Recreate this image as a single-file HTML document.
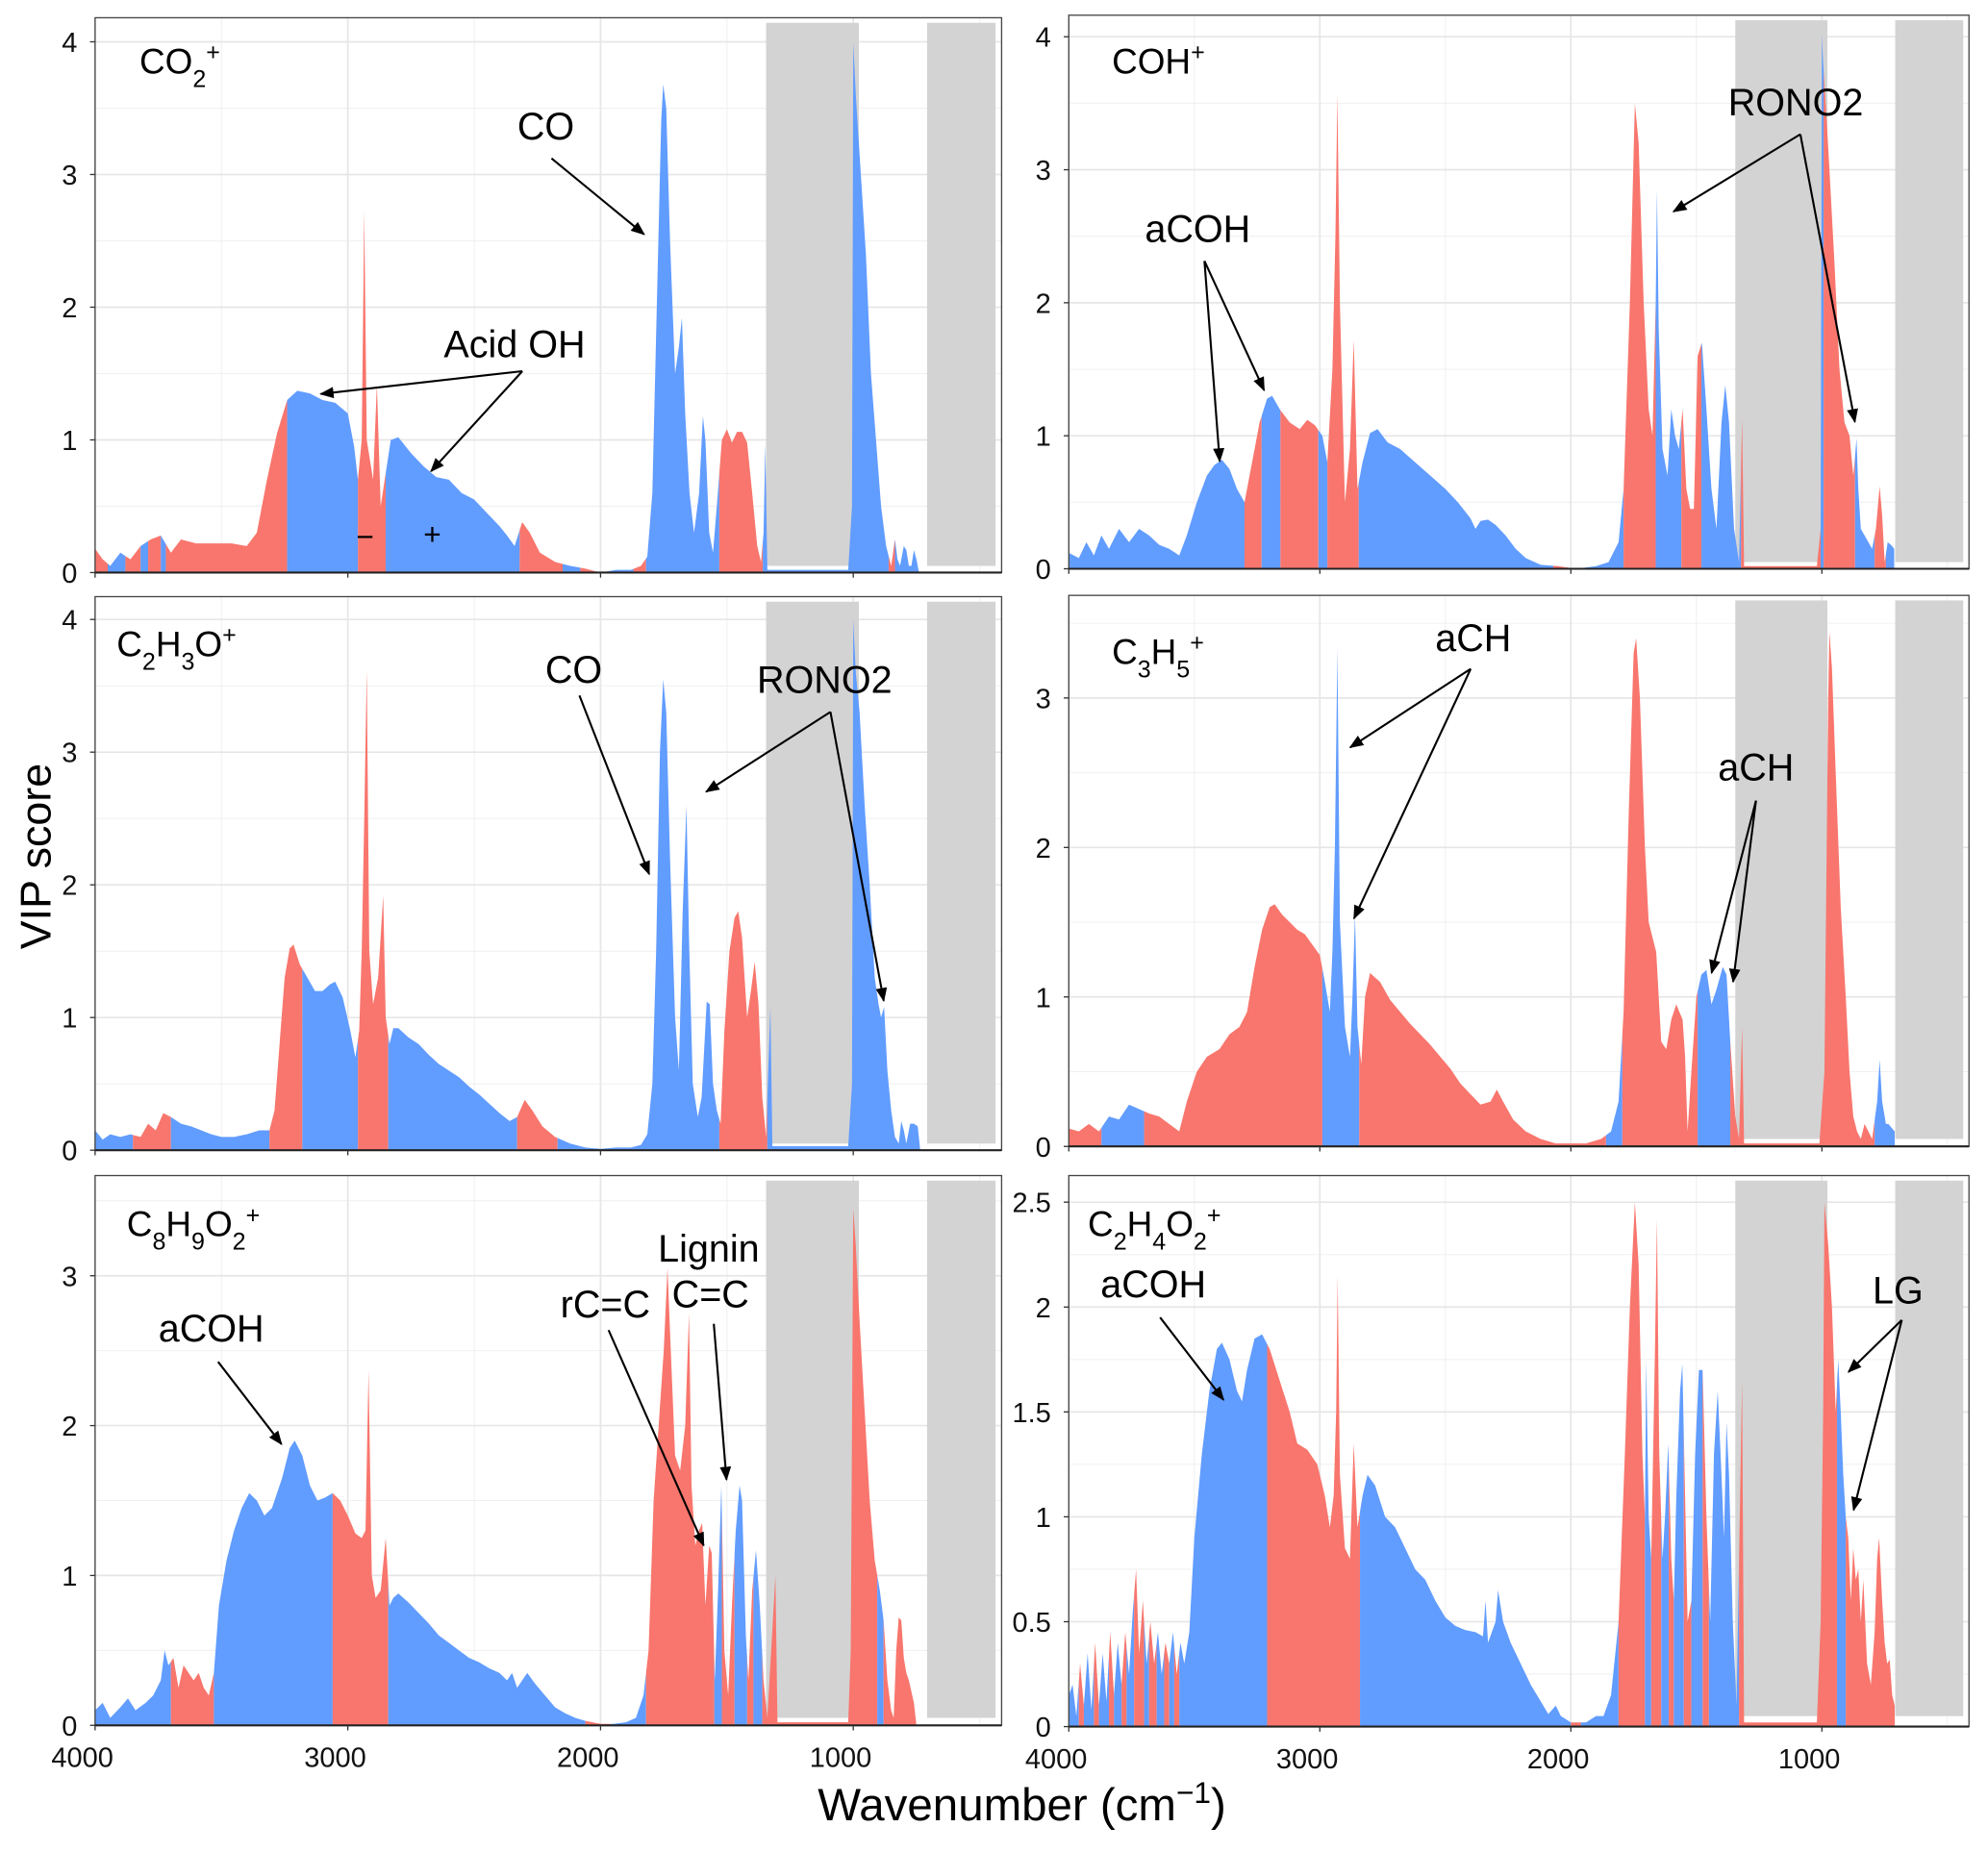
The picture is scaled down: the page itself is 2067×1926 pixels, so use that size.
<!DOCTYPE html>
<html><head><meta charset="utf-8"><style>
html,body{margin:0;padding:0;background:#fff}
svg{display:block}
text{font-family:"Liberation Sans",Arial,sans-serif}
</style></head><body>
<svg id="fig" xmlns="http://www.w3.org/2000/svg" width="2067" height="1926" viewBox="0 0 1568 1462" preserveAspectRatio="none">
<rect x="0" y="0" width="1568" height="1462" fill="#fff"/>
<g id="panels"></g>
<g id="annot" font-size="30" fill="#000">
 <text x="110" y="58" font-size="28">CO<tspan baseline-shift="sub" font-size="19">2</tspan><tspan baseline-shift="super" font-size="19">+</tspan></text>
 <text x="408" y="110">CO</text>
 <text x="350" y="282">Acid OH</text>
 <text x="281" y="432" font-size="24">−</text>
 <text x="334" y="430" font-size="24">+</text>
 <text x="877" y="58" font-size="28">COH<tspan baseline-shift="super" font-size="19">+</tspan></text>
 <text x="1363" y="91">RONO2</text>
 <text x="903" y="191">aCOH</text>
 <text x="92" y="518" font-size="28">C<tspan baseline-shift="sub" font-size="19">2</tspan>H<tspan baseline-shift="sub" font-size="19">3</tspan>O<tspan baseline-shift="super" font-size="19">+</tspan></text>
 <text x="430" y="539">CO</text>
 <text x="597" y="547">RONO2</text>
 <text x="877" y="524" font-size="28">C<tspan baseline-shift="sub" font-size="19">3</tspan>H<tspan baseline-shift="sub" font-size="19">5</tspan><tspan baseline-shift="super" font-size="19">+</tspan></text>
 <text x="1132" y="514">aCH</text>
 <text x="1355" y="616">aCH</text>
 <text x="100" y="976" font-size="28">C<tspan baseline-shift="sub" font-size="19">8</tspan>H<tspan baseline-shift="sub" font-size="19">9</tspan>O<tspan baseline-shift="sub" font-size="19">2</tspan><tspan baseline-shift="super" font-size="19">+</tspan></text>
 <text x="125" y="1059">aCOH</text>
 <text x="442" y="1040">rC=C</text>
 <text x="519" y="996">Lignin</text>
 <text x="530" y="1032">C=C</text>
 <text x="858" y="976" font-size="28">C<tspan baseline-shift="sub" font-size="19">2</tspan>H<tspan baseline-shift="sub" font-size="19">4</tspan>O<tspan baseline-shift="sub" font-size="19">2</tspan><tspan baseline-shift="super" font-size="19">+</tspan></text>
 <text x="868" y="1024">aCOH</text>
 <text x="1477" y="1029">LG</text>
 <text x="645" y="1437" font-size="36">Wavenumber (cm<tspan baseline-shift="super" font-size="24">−1</tspan>)</text>
 <text transform="translate(40,676) rotate(-90)" text-anchor="middle" font-size="34">VIP score</text>
</g>
<defs><marker id="ah" viewBox="0 0 10 10" refX="9" refY="5" markerWidth="7" markerHeight="7" orient="auto"><path d="M0,1 L10,5 L0,9 z" fill="#000"/></marker></defs>
<g id="arrows" stroke="#000" stroke-width="1.6" marker-end="url(#ah)">
 <line x1="435" y1="125" x2="508" y2="185"/>
 <line x1="412" y1="293" x2="253" y2="311"/>
 <line x1="412" y1="293" x2="340" y2="372"/>
 <line x1="1420" y1="106" x2="1320" y2="167"/>
 <line x1="1420" y1="106" x2="1463" y2="333"/>
 <line x1="950" y1="206" x2="962" y2="364"/>
 <line x1="950" y1="206" x2="997" y2="308"/>
 <line x1="457" y1="549" x2="512" y2="690"/>
 <line x1="655" y1="562" x2="557" y2="625"/>
 <line x1="655" y1="562" x2="697" y2="790"/>
 <line x1="1160" y1="528" x2="1065" y2="590"/>
 <line x1="1160" y1="528" x2="1068" y2="725"/>
 <line x1="1385" y1="632" x2="1350" y2="768"/>
 <line x1="1385" y1="632" x2="1367" y2="775"/>
 <line x1="172" y1="1075" x2="222" y2="1140"/>
 <line x1="480" y1="1050" x2="555" y2="1220"/>
 <line x1="563" y1="1045" x2="573" y2="1168"/>
 <line x1="915" y1="1040" x2="965" y2="1105"/>
 <line x1="1500" y1="1042" x2="1458" y2="1083"/>
 <line x1="1500" y1="1042" x2="1462" y2="1192"/>
</g>
</svg>
<script>
// ---- data ----
const p1_wn=[4000,3970,3940,3900,3860,3820,3780,3740,3700,3660,3600,3520,3460,3400,3360,3320,3280,3240,3200,3150,3100,3050,3000,2975,2960,2945,2935,2925,2900,2885,2870,2850,2830,2800,2750,2700,2650,2600,2550,2500,2450,2400,2370,2340,2310,2280,2240,2180,2120,2060,2000,1940,1880,1840,1815,1795,1775,1760,1752,1740,1725,1705,1690,1678,1665,1648,1630,1610,1595,1585,1570,1555,1540,1520,1500,1480,1460,1440,1420,1400,1380,1365,1355,1348,1340,1020,1005,1000,990,970,950,930,910,890,870,850,835,825,815,800,790,780,770,760,750,740];
const p1_vip=[.18,.1,.05,.15,.1,.2,.25,.28,.15,.25,.22,.22,.22,.2,.3,.7,1.05,1.3,1.37,1.35,1.3,1.28,1.2,.95,.7,1.0,2.73,1.0,.7,1.42,.5,.75,1.0,1.02,.9,.8,.72,.7,.6,.55,.45,.35,.28,.2,.38,.3,.15,.08,.05,.03,0,.02,.02,.05,.12,.6,2.2,3.4,3.68,3.5,2.5,1.5,1.7,1.92,1.2,.6,.3,.6,1.18,1.0,.3,.15,.5,1.0,1.08,.98,1.06,1.06,.98,.6,.2,.08,.3,.97,.02,.02,.5,4.0,3.6,3.0,2.4,1.5,1.0,.5,.2,.05,.25,.1,.05,.2,.17,.05,.05,.17,.1,0];
const p1_bounds=[4000,3950,3880,3820,3790,3740,3720,3240,2960,2850,2320,2150,2080,2000,1870,1820,1530,1358,860,835,740];
const p1_colors=['r','b','r','b','r','b','r','b','r','b','r','b','r','b','r','b','r','b','r','b'];

const p2_wn=[4000,3960,3930,3900,3870,3840,3800,3760,3720,3680,3640,3600,3560,3530,3490,3450,3420,3390,3360,3330,3300,3270,3240,3210,3190,3160,3120,3080,3050,3020,2990,2970,2950,2938,2930,2920,2900,2880,2865,2850,2830,2800,2770,2730,2680,2620,2560,2500,2450,2400,2380,2360,2330,2300,2260,2220,2180,2120,2050,1980,1900,1850,1810,1790,1765,1745,1730,1710,1690,1675,1662,1657,1650,1635,1615,1600,1585,1570,1555,1540,1525,1510,1495,1478,1460,1440,1420,1400,1385,1370,1350,1330,1318,1310,1020,1005,1000,995,985,970,950,930,910,890,875,862,855,845,830,800,785,770,760,750,738,725,712];
const p2_vip=[.12,.08,.2,.1,.25,.15,.3,.2,.3,.25,.18,.15,.1,.25,.5,.7,.78,.82,.75,.6,.5,.8,1.1,1.28,1.3,1.2,1.1,1.05,1.12,1.08,1.0,.8,1.5,2.5,3.57,2.0,.5,.9,1.72,.6,.8,1.02,1.05,.95,.9,.8,.7,.6,.5,.38,.3,.36,.37,.33,.25,.15,.08,.03,.02,0,.02,.05,.2,.6,2.0,3.5,3.2,2.0,1.2,1.0,2.0,2.85,1.8,.9,.7,1.2,1.0,.9,1.2,.6,.45,.45,1.6,1.7,1.2,.6,.3,1.1,1.38,1.1,.3,.05,1.13,.02,.02,.3,4.02,3.8,3.5,3.0,2.3,1.5,1.1,1.0,.7,.98,.6,.3,.25,.15,.3,.62,.4,.05,.2,.18,.15];
const p2_bounds=[4000,3300,3232,3157,3006,2970,2845,2070,1960,1790,1662,1560,1480,1322,1005,993,868,790,745,700];
const p2_colors=['b','r','b','r','b','r','b','r','b','r','b','r','b','r','b','r','b','r','b'];

const p3_wn=[4000,3970,3940,3900,3860,3820,3790,3760,3730,3700,3660,3620,3580,3540,3500,3450,3400,3350,3310,3290,3270,3250,3230,3215,3190,3160,3130,3100,3070,3050,3020,2990,2970,2955,2945,2935,2925,2915,2900,2880,2860,2850,2835,2820,2800,2760,2720,2680,2640,2600,2560,2520,2480,2440,2400,2360,2330,2300,2270,2230,2180,2120,2060,2000,1940,1880,1840,1815,1795,1780,1765,1752,1740,1725,1705,1690,1675,1660,1650,1635,1615,1600,1580,1568,1555,1540,1525,1510,1490,1470,1455,1440,1420,1405,1390,1375,1360,1345,1328,1320,1020,1005,1000,990,975,955,935,915,900,890,878,865,850,835,820,810,800,790,775,760,745,735];
const p3_vip=[.15,.08,.12,.1,.12,.1,.2,.15,.28,.25,.2,.18,.15,.12,.1,.1,.12,.15,.15,.3,.8,1.3,1.52,1.55,1.4,1.3,1.2,1.2,1.25,1.27,1.15,.9,.7,.9,1.5,2.5,3.62,1.5,1.1,1.3,1.92,1.0,.8,.92,.92,.85,.8,.72,.65,.6,.55,.48,.42,.35,.28,.22,.25,.38,.3,.18,.1,.05,.02,.01,.02,.02,.04,.12,.5,1.5,3.0,3.55,3.3,2.2,1.0,.6,1.8,2.6,1.6,.5,.25,.4,1.12,1.1,.5,.3,.2,.9,1.5,1.75,1.8,1.6,1.0,1.2,1.42,1.1,.4,.1,1.08,.03,.03,.5,4.0,3.6,3.3,2.6,2.0,1.3,1.1,1.0,1.08,.6,.3,.1,.05,.22,.15,.05,.2,.2,.18,0];
const p3_bounds=[4000,3850,3700,3310,3180,2960,2840,2330,2170,1530,1340,735];
const p3_colors=['b','r','b','r','b','r','b','r','b','r','b'];

const p4_wn=[4000,3960,3920,3880,3840,3800,3760,3720,3680,3640,3600,3560,3530,3490,3450,3400,3360,3320,3290,3260,3230,3200,3180,3150,3120,3090,3060,3030,3000,2980,2960,2950,2940,2930,2920,2900,2880,2870,2860,2850,2835,2820,2800,2760,2720,2680,2640,2600,2560,2520,2480,2440,2400,2360,2320,2295,2270,2230,2180,2120,2060,2000,1940,1880,1840,1810,1790,1770,1750,1740,1725,1705,1690,1675,1660,1640,1620,1600,1580,1568,1555,1545,1535,1520,1500,1480,1460,1440,1420,1395,1380,1365,1345,1330,1318,1310,1010,990,975,970,960,945,925,905,890,875,860,845,830,815,800,780,770,760,745,735,720,710];
const p4_vip=[.12,.1,.15,.1,.2,.18,.28,.25,.22,.2,.15,.1,.3,.5,.6,.65,.75,.8,.9,1.2,1.45,1.6,1.62,1.55,1.5,1.45,1.42,1.35,1.28,1.1,.9,1.3,2.0,3.33,1.5,.8,.6,1.0,1.55,.8,.55,1.0,1.16,1.1,.98,.9,.82,.75,.68,.6,.52,.42,.35,.28,.3,.38,.3,.18,.1,.05,.02,.02,.02,.05,.1,.3,.9,2.2,3.3,3.4,3.0,2.0,1.5,1.4,1.3,.7,.65,.85,.95,.9,.85,.6,.1,.5,1.0,1.15,1.18,.95,1.05,1.2,1.15,.7,.2,.05,.8,.02,.02,.5,3.0,3.44,3.2,2.5,1.6,1.0,.5,.2,.1,.05,.15,.1,.05,.3,.58,.3,.15,.15,.12,.1];
const p4_bounds=[4000,3870,3700,2990,2843,1860,1795,1495,1365,790,700];
const p4_colors=['r','b','r','b','r','b','r','b','r','b'];

const p5_wn=[4000,3970,3940,3900,3870,3840,3800,3770,3740,3725,3710,3690,3670,3650,3630,3610,3590,3570,3550,3530,3510,3480,3450,3420,3390,3360,3330,3300,3260,3230,3210,3180,3150,3120,3090,3060,3030,3000,2970,2945,2930,2918,2905,2890,2870,2850,2835,2820,2800,2760,2720,2680,2640,2600,2560,2520,2480,2440,2400,2370,2350,2330,2310,2290,2260,2220,2180,2140,2100,2060,2000,1950,1900,1860,1830,1810,1790,1770,1750,1735,1722,1705,1685,1665,1650,1640,1625,1610,1598,1585,1570,1560,1548,1535,1522,1510,1495,1480,1465,1450,1440,1425,1415,1400,1385,1370,1355,1340,1308,1300,1020,1010,1005,1000,990,975,955,935,915,895,880,865,850,840,830,820,810,800,790,780,760,750];
const p5_vip=[.1,.15,.05,.12,.18,.1,.15,.2,.3,.5,.4,.45,.25,.4,.35,.3,.35,.25,.2,.35,.8,1.1,1.3,1.45,1.55,1.5,1.4,1.45,1.65,1.85,1.9,1.8,1.6,1.5,1.52,1.55,1.5,1.4,1.28,1.25,1.3,2.37,1.0,.85,.9,1.25,.8,.85,.88,.82,.75,.68,.6,.55,.5,.45,.42,.38,.35,.3,.35,.25,.3,.35,.28,.2,.12,.08,.05,.03,.01,.01,.02,.05,.2,.5,1.5,2.0,2.5,3.05,2.5,1.8,1.7,2.0,2.75,1.6,1.2,1.3,1.35,.8,1.2,1.15,.3,.9,1.6,.5,.2,.8,1.3,1.6,1.5,.6,.3,.9,1.17,.8,.3,.05,1.0,.02,.02,.5,2.0,3.45,3.2,2.7,2.1,1.5,1.1,.9,.7,.3,.1,.05,.5,.72,.7,.45,.35,.3,.15,0];
const p5_bounds=[4000,3700,3530,3060,2840,2060,1960,1820,1550,1520,1470,1420,1395,1360,905,880,750];
const p5_colors=['b','r','b','r','b','r','b','r','b','r','b','r','b','r','b','r'];

const p6_wn=[4000,3985,3970,3955,3940,3925,3910,3895,3880,3865,3850,3835,3820,3805,3790,3775,3760,3745,3732,3720,3705,3690,3675,3660,3645,3630,3615,3600,3585,3570,3555,3540,3520,3500,3470,3440,3410,3390,3360,3330,3310,3290,3260,3230,3200,3160,3120,3090,3050,3010,2980,2960,2945,2935,2929,2920,2900,2880,2865,2850,2830,2810,2780,2740,2700,2660,2620,2580,2540,2500,2460,2420,2380,2350,2340,2330,2300,2290,2270,2240,2200,2160,2120,2090,2060,2040,2000,1940,1900,1870,1840,1810,1785,1765,1745,1730,1715,1705,1700,1690,1680,1665,1657,1648,1635,1625,1612,1600,1590,1580,1565,1556,1545,1535,1520,1505,1490,1475,1460,1445,1430,1415,1400,1390,1380,1370,1355,1340,1318,1310,1020,1005,995,990,975,960,945,935,925,915,905,895,885,875,865,855,845,835,820,805,790,780,772,760,750,740,730,720,710];
const p6_vip=[.15,.2,.05,.3,.1,.35,.08,.4,.1,.35,.12,.45,.15,.4,.2,.45,.25,.55,.75,.35,.6,.3,.5,.3,.45,.25,.4,.3,.45,.25,.4,.3,.45,.9,1.3,1.6,1.8,1.83,1.75,1.6,1.55,1.7,1.85,1.87,1.8,1.65,1.5,1.35,1.32,1.25,1.1,.95,1.1,1.5,2.15,1.2,.85,.8,1.35,.95,1.1,1.2,1.15,1.0,.95,.85,.75,.7,.6,.52,.48,.46,.45,.43,.6,.4,.5,.65,.5,.4,.3,.2,.12,.06,.1,.05,.02,.02,.05,.05,.15,.5,1.3,2.0,2.5,2.2,1.3,1.0,1.75,1.0,.8,1.8,2.42,1.3,.8,1.0,1.35,.8,.6,1.1,1.6,1.73,1.1,.5,.6,1.3,1.7,1.7,1.0,.5,1.3,1.6,1.2,.9,1.45,1.2,.5,.1,1.65,.02,.02,.5,1.5,2.5,2.3,2.0,1.5,1.75,1.5,1.2,1.0,.9,.6,.85,.7,.75,.5,.7,.3,.2,.45,.8,.9,.6,.4,.3,.32,.15,.1];
const p6_bounds=[4000,3960,3940,3900,3880,3840,3820,3790,3770,3740,3700,3680,3650,3620,3600,3580,3560,3210,2840,2000,1960,1810,1705,1680,1640,1610,1590,1550,1520,1475,1450,1330,940,905,710];
const p6_colors=['b','r','b','r','b','r','b','r','b','r','b','r','b','r','b','r','b','r','b','r','b','r','b','r','b','r','b','r','b','r','b','r','b','r'];

const excluded_wn=[[1345,978],[708,437]];
const xTicks=[4000,3000,2000,1000];
const xMinor=[3500,2500,1500,500];
const yTicks4=[0,1,2,3,4];
const yTicks3=[0,1,2,3];
const yTicks25=[0,0.5,1,1.5,2,2.5];
const yTickLabels25=['0','0.5','1','1.5','2','2.5'];

// ---- layout ----
const L={x0:75,x4000:75,x1000:673,xr:790}, R={x0:843,x4000:843,x1000:1437,xr:1553};
const panels=[
 {name:'co2',col:L,top:14,y0:452,ppu:104.75,yt:yTicks4,wn:p1_wn,v:p1_vip,b:p1_bounds,c:p1_colors,xl:false},
 {name:'coh',col:R,top:12,y0:449,ppu:105,yt:yTicks4,wn:p2_wn,v:p2_vip,b:p2_bounds,c:p2_colors,xl:false},
 {name:'c2h3o',col:L,top:471,y0:908,ppu:104.75,yt:yTicks4,wn:p3_wn,v:p3_vip,b:p3_bounds,c:p3_colors,xl:false},
 {name:'c3h5',col:R,top:470,y0:905,ppu:118,yt:yTicks3,wn:p4_wn,v:p4_vip,b:p4_bounds,c:p4_colors,xl:false},
 {name:'c8h9o2',col:L,top:928,y0:1362,ppu:118.3,yt:yTicks3,wn:p5_wn,v:p5_vip,b:p5_bounds,c:p5_colors,xl:true},
 {name:'c2h4o2',col:R,top:928,y0:1363,ppu:165.6,yt:yTicks25,wn:p6_wn,v:p6_vip,b:p6_bounds,c:p6_colors,xl:true,labels:yTickLabels25}
];
const NS='http://www.w3.org/2000/svg';
const COL={r:'#F8766D',b:'#619CFF'};
const root=document.getElementById('panels');
function mk(tag,attrs,parent){const e=document.createElementNS(NS,tag);for(const k in attrs)e.setAttribute(k,attrs[k]);parent.appendChild(e);return e;}
panels.forEach((p,pi)=>{
 const col=p.col;
 const xs=w=>col.x4000+(4000-w)*(col.x1000-col.x4000)/3000;
 const ys=v=>p.y0-v*p.ppu;
 const g=mk('g',{},root);
 
 
 xMinor.forEach(w=>{const x=xs(w);if(x<col.xr){const l=mk('line',{x1:x,x2:x,y1:p.top,y2:p.y0,stroke:'#f0f0f0','stroke-width':0.8},g);
  
  }});
 const step=p.yt[1]-p.yt[0];
 p.yt.forEach(t=>{const ym=ys(t+step/2);if(ym>p.top){const l=mk('line',{x1:col.x0,x2:col.xr,y1:ym,y2:ym,stroke:'#f0f0f0','stroke-width':0.8},g);
  
  }});
 xTicks.forEach(w=>{const x=xs(w);const l=mk('line',{x1:x,x2:x,y1:p.top,y2:p.y0,stroke:'#e6e6e6','stroke-width':1.3},g);
  
  });
 p.yt.forEach(t=>{const l=mk('line',{x1:col.x0,x2:col.xr,y1:ys(t),y2:ys(t),stroke:'#e6e6e6','stroke-width':1.3},g);
  
  });
 excluded_wn.forEach(r=>{const x1=xs(r[0]),x2=Math.min(xs(r[1]),col.xr-4);const e=mk('rect',{x:x1,y:p.top+4,width:x2-x1,height:(ys(0.05))-(p.top+4),fill:'#d3d3d3'},g);
  
  });
 let d='M'+xs(p.wn[0])+','+ys(0);
 for(let i=0;i<p.wn.length;i++)d+=' L'+xs(p.wn[i]).toFixed(2)+','+ys(p.v[i]).toFixed(2);
 d+=' L'+xs(p.wn[p.wn.length-1])+','+ys(0)+' Z';
 for(let s=0;s<p.c.length;s++){
  const id='cl'+pi+'_'+s;
  const cp=mk('clipPath',{id:id},g);
  const xa=xs(p.b[s]),xb=xs(p.b[s+1]);
  mk('rect',{x:xa,y:p.top,width:Math.max(0,xb-xa),height:p.y0-p.top},cp);
  const a=mk('path',{d:d,fill:COL[p.c[s]],'clip-path':'url(#'+id+')'},g);
  
  
 }
 const fr=mk('rect',{x:col.x0,y:p.top,width:col.xr-col.x0,height:p.y0-p.top,fill:'none',stroke:'#444','stroke-width':1},g);
 
 
 const ax=mk('line',{x1:col.x0,x2:col.xr,y1:p.y0,y2:p.y0,stroke:'#222','stroke-width':1.6},g);
 
 
 p.yt.forEach((t,i)=>{
  mk('line',{x1:col.x0-4,x2:col.x0,y1:ys(t),y2:ys(t),stroke:'#333','stroke-width':1},g);
  const tx=mk('text',{x:col.x0-14,y:ys(t)+8,'text-anchor':'end','font-size':22,fill:'#111'},g);
  
  
  tx.textContent=p.labels?p.labels[i]:String(t);
 });
 xTicks.forEach(w=>{
  mk('line',{x1:xs(w),x2:xs(w),y1:p.y0,y2:p.y0+4,stroke:'#333','stroke-width':1},g);
  if(p.xl){const tx=mk('text',{x:xs(w)-10,y:p.y0+33,'text-anchor':'middle','font-size':22,fill:'#111'},g);
   
   
   tx.textContent=String(w);}
 });
});
</script>
</body></html>
